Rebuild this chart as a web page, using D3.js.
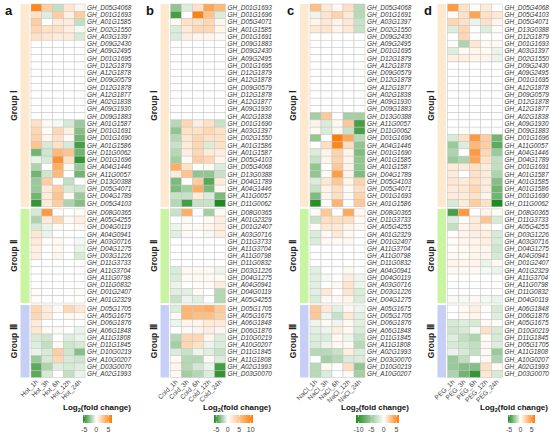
<!DOCTYPE html>
<html><head><meta charset="utf-8">
<script src="https://cdn.jsdelivr.net/npm/d3@7"></script>
<style>body{margin:0;background:#fff} svg{display:block}</style>
</head><body><svg id="chart" width="550" height="438"></svg>
<script>
// ---------------- DATA ----------------
const groupSizes = [28, 13, 10];
const groupNames = ["Group Ⅰ", "Group Ⅱ", "Group Ⅲ"];

const condsA = ["Hot_1h","Hot_3h","Hot_6h","Hot_12h","Hot_24h"];
const condsB = ["Cold_1h","Cold_3h","Cold_6h","Cold_12h","Cold_24h"];
const condsC = ["NaCl_1h","NaCl_3h","NaCl_6h","NaCl_12h","NaCl_24h"];
const condsD = ["PEG_1h","PEG_3h","PEG_6h","PEG_12h","PEG_24h"];

const ticksA = [-5, 0, 5];
const ticksB = [-5, 0, 5, 10];
const ticksC = [-10, -5, 0, 5];
const ticksD = [-5, 0, 5];

const domainA = [-5.5, 0, 6.5];
const domainB = [-6, 0, 11];
const domainC = [-11, 0, 6];
const domainD = [-5.5, 0, 6.5];

const genesA = ["GH_D05G4068","GH_D01G1693","GH_A01G1585","GH_D02G1550","GH_A03G1397","GH_D09G2430","GH_A09G2495","GH_D01G1695","GH_D12G1879","GH_A12G1878","GH_D09G0579","GH_D12G1878","GH_A12G1877","GH_A02G1838","GH_A09G1930","GH_D09G1883","GH_A01G1587","GH_D01G1691","GH_D01G1690","GH_A01G1586","GH_D11G0062","GH_D01G1696","GH_A04G1446","GH_A11G0057","GH_D13G0388","GH_D05G4071","GH_D04G1789","GH_D05G4103",
"GH_D08G0365","GH_A05G4255","GH_D04G0119","GH_A04G0941","GH_A03G0716","GH_D04G1275","GH_D03G1226","GH_D11G3733","GH_A11G3704","GH_A11G0798","GH_D11G0832","GH_D01G2407","GH_A01G2329",
"GH_D05G1705","GH_A05G1675","GH_D06G1876","GH_A06G1848","GH_A11G1808","GH_D11G1845","GH_D10G0219","GH_A10G0207","GH_D03G0070","GH_A02G1993"];
const valuesA = [
[6,2.5,-1.5,1.2,0.5],[1.5,-0.8,2.5,0.7,2.5],[2.5,0,1,1,-1.5],[2,1.5,1.5,0.8,-0.3],[1.5,1.2,1,1,-1],
[0,0,0,0,0],[0,0,0,0,0],[0,0,0,0,0],[0,0,0,0,0],[0,0,0,0,0],[0,0,0,0,0],[0,0,0,0,0],[0,0,0,0,0],[0,0,0,0,0],[0,0,0,0,0],[0,0,0,0,0],
[1.5,0.3,-0.3,-1,-2.5],[2,0.2,2,0.8,-3],[2.2,0.5,1.5,0.3,-3.5],[3,-1,1.5,-1,-4.5],[-3.5,-1.2,3.5,3,-3.5],[-0.5,-1,5.5,1.5,-5],[-2,0,4,0.3,-2.5],[-3.5,-1.2,3.5,0,-3.5],[-2.5,2.5,0,-1.5,0],[-2.5,1,2.5,-1,-1.2],[-3.5,1,3,0.3,-2.5],[-5,1,2.5,-2,-3],
[-1,5,0.2,0,0.2],[-2,1,2,0.3,0.8],[-1,-0.5,0.3,0,0.3],[1.2,-0.5,0,0,0],[1,0.2,0.3,0,-0.3],[0.8,0,0.3,0,-0.5],[0.8,0,0.5,0,-1],[0,0,0,0,0],[0,0,0,0,0],[0,0,0,0,0],[0,0,0,0,0],[0.2,0,0,0,0.2],[0.2,0,0,0,0],
[2,1,0.3,2,1.2],[2,1,0,0.3,0.3],[1,0,0,0,0],[1.2,0.3,0.3,0,-0.5],[-1,-1.2,0,-0.8,-0.5],[-0.8,-1.5,0.3,-1.2,-1],[-0.5,-1,2.5,-1.2,-3],[-2.5,-1,2,-1,-1.2],[-4,-2,-0.8,-1,-0.8],[-4,-1,0,-1.5,-0.5]
];

const genesB = ["GH_D01G1693","GH_D01G1696","GH_D05G4071","GH_A01G1585","GH_D01G1691","GH_D09G1883","GH_D09G2430","GH_A09G2495","GH_D01G1695","GH_D12G1879","GH_A12G1878","GH_D09G0579","GH_D12G1878","GH_A12G1877","GH_A09G1930","GH_A02G1838","GH_D01G1690","GH_A03G1397","GH_D02G1550","GH_A01G1586","GH_A01G1587","GH_D05G4103","GH_D05G4068","GH_D13G0388","GH_D04G1789","GH_A04G1446","GH_A11G0057","GH_D11G0062",
"GH_D08G0365","GH_A01G2329","GH_D01G2407","GH_A03G0716","GH_D11G3733","GH_A11G3704","GH_A11G0798","GH_D11G0832","GH_D03G1226","GH_D04G1275","GH_A04G0941","GH_D04G0119","GH_A05G4255",
"GH_D05G1705","GH_A05G1675","GH_A06G1848","GH_D06G1876","GH_D10G0219","GH_A10G0207","GH_D11G1845","GH_A11G1808","GH_A02G1993","GH_D03G0070"];
const valuesB = [
[-3,-1,2.5,7.5,6],[-5,0,10.5,5,-1],[0.5,2.5,2.5,3.4,0.8],[-1,1.7,3.4,3.4,0.8],[-1,1.4,0.8,0.8,0.5],
[0,0,0,0,0],[0,0,0,0,0],[0,0,0,0,0],[0,0,0,0,0],[0,0,0,0,0],[0,0,0,0,0],[0,0,0,0,0],[0,0,0,0,0],[0,0,0,0,0],[0,0,0,0,0],[0,0,0,0,0],
[-2,3.4,1.4,2.5,-1.5],[-3,2.5,2.5,3.4,2.5],[-2,2,3.4,2.5,2.5],[-1.5,1.7,3.4,-1,2.5],[-2,1.4,3.4,1.7,1.4],[-2.5,0.5,4.2,3.4,0.8],[6.8,2.5,0,0.5,-1],[1.7,5,-3,-3,-1.5],[-3.5,0,4.2,-4.5,1.7],[-3.5,-2.5,6.8,-3.5,0.5],[-1.5,-1.5,1.7,-1,-3.5],[-2,-5,-1.5,-1.5,-6],
[-1.5,6.8,0,-2.5,0.5],[0,0.5,0,0.5,1.4],[-0.5,0.5,0.5,0.8,1.4],[-0.8,0.5,0,-0.3,1.4],[0,0,0,0,0],[0,0,0,0,0],[0,0,0,0,0],[0,0,0,0,0],[-1,0.5,0.5,0.5,-0.5],[-1,0.5,0.5,0.5,0.5],[-0.5,0,0.3,0.3,1.4],[-0.8,-0.8,0.5,0,-2],[-1.5,-0.5,-0.8,0,-2],
[-1,6.2,6.2,6.8,4.5],[0.5,6.2,5.5,5.5,4],[-0.5,0.8,0.8,1.7,1.7],[0,0.5,0.8,1.4,0.8],[-2,3.4,3.4,0.8,-1],[-2.5,3.4,2.5,-0.5,-1],[-1,-1.5,-0.5,-0.8,-1.5],[0.5,-2,-2,0.5,-1],[0.8,-2,-1.2,-0.5,-5],[0.5,-2.5,-2,-1,-5.5]
];

const genesC = ["GH_D05G4068","GH_D01G1691","GH_A03G1397","GH_D02G1550","GH_D09G2430","GH_A09G2495","GH_D01G1695","GH_D12G1879","GH_A12G1878","GH_D09G0579","GH_D12G1878","GH_A12G1877","GH_A02G1838","GH_A09G1930","GH_D09G1883","GH_D13G0388","GH_A11G0057","GH_D11G0062","GH_D01G1696","GH_A04G1446","GH_D01G1690","GH_A01G1585","GH_A01G1587","GH_D04G1789","GH_D05G4103","GH_D05G4071","GH_D01G1693","GH_A01G1586",
"GH_D08G0365","GH_D11G3733","GH_A05G4255","GH_A01G2329","GH_D01G2407","GH_A11G3704","GH_A11G0798","GH_D11G0832","GH_A04G0941","GH_D04G0119","GH_A03G0716","GH_D03G1226","GH_D04G1275",
"GH_A05G1675","GH_D05G1705","GH_D06G1876","GH_A06G1848","GH_D11G1845","GH_A11G1808","GH_A02G1993","GH_D03G0070","GH_D10G0219","GH_A10G0207"];
const valuesC = [
[3,1,0.3,1.5,-3.6],[-0.9,1.2,2,1,-3.6],[0.5,1,0.5,1,-2.7],[1,1.2,0.5,1,-2.7],
[0,0,0,0,0],[0,0,0,0,0],[0,0,0,0,0],[0,0,0,0,0],[0,0,0,0,0],[0,0,0,0,0],[0,0,0,0,0],[0,0,0,0,0],[0,0,0,0,0],[0,0,0,0,0],[0,0,0,0,0],
[-4.5,2.5,0,-4.5,-4.5],[0.5,-1.8,0.3,2.5,-9],[0.3,-1.8,0.3,-2.7,-9],[-5.4,0,6,4,-3.6],[0,1.5,5.5,1.5,-5.4],[-1.8,0.5,2,0.5,-6.3],[-2.7,0.5,2,0.5,-5.4],[-5.4,0,2.5,0.5,-5.4],[-5.4,0.3,4.5,0.5,-6.3],[-1.8,1,2.5,0.5,2],[-2.7,0.5,1.5,0.3,1.5],[-6.3,0.5,1.5,0.3,2],[-10.5,0,3.5,0,2.5],
[0.2,2.5,0,4,0.3],[-2.7,1.5,1.5,1.5,0.3],[0.2,1,1,0.5,0.3],[-1.8,0.3,1,0.3,0],[-1.8,0.3,0.3,0.3,0],[0,0,0,0,0],[0,0,0,0,0],[0,0,0,0,0],[-1.4,0,0,0.3,0],[-1.4,-0.5,0,0.8,-0.9],[-1.4,0,0.3,1.2,-0.9],[-1.4,1,0,1.2,-1.8],[-1.8,0.3,0.3,0.5,-1.8],
[2.5,1,-1.4,0.3,-0.9],[2.5,-0.9,-2.7,1,-1.4],[-0.9,0.3,-0.9,0.3,-1.4],[-1.4,-0.9,0.8,0.3,-1.8],[-1.8,-1.8,0.3,-0.9,-2.7],[-1.8,-0.9,0.3,0.3,-3.6],[-3.6,-3.6,-2.7,0.8,-1.8],[0,-4.5,-3.6,-1.8,-1.8],[-3.6,0.3,0,1.5,-5.4],[-3.6,-1.8,0,0.3,-4.5]
];

const genesD = ["GH_D05G4068","GH_D05G4103","GH_D05G4071","GH_D13G0388","GH_D12G1879","GH_D01G1693","GH_A03G1397","GH_D02G1550","GH_D09G2430","GH_A09G2495","GH_D01G1695","GH_A12G1878","GH_D09G0579","GH_D12G1878","GH_A12G1877","GH_A02G1838","GH_A09G1930","GH_D09G1883","GH_D01G1696","GH_A11G0057","GH_A04G1446","GH_D04G1789","GH_D01G1691","GH_A01G1587","GH_A01G1585","GH_A01G1586","GH_D01G1690","GH_D11G0062",
"GH_D08G0365","GH_D11G3733","GH_A05G4255","GH_D03G1226","GH_A03G0716","GH_D04G1275","GH_A04G0941","GH_D01G2407","GH_A01G2329","GH_A11G3704","GH_A11G0798","GH_D11G0832","GH_D04G0119",
"GH_A06G1848","GH_D06G1876","GH_A05G1675","GH_D10G0219","GH_D11G1845","GH_D05G1705","GH_A11G1808","GH_A10G0207","GH_A02G1993","GH_D03G0070"];
const valuesD = [
[5,1.5,0.2,1,0],[0.2,1.5,4.5,1.5,1.2],[2,1.5,-0.5,1.5,0.5],[-0.8,2,0,-0.8,0.2],[0,2,0,0,0],[0.2,-2,1.2,0.3,0.3],[-0.8,0.3,0.5,0.3,-0.5],[0.8,0.8,0.5,0.5,-0.5],
[0,0,0,0,0],[0,0,0,0,0],[0,0,0,0,0],[0,0,0,0,0],[0,0,0,0,0],[0,0,0,0,0],[0,0,0,0,0],[0,0,0,0,0],[0,0,0,0,0],[0,0,0,0,0],
[-1,1.5,5,2.5,-3.5],[-2.5,-0.8,3.5,2.5,-4],[-2,0,5,2,-2.5],[-2.5,-2,4.5,1.5,-1.5],[1,1,1.5,1,-1.5],[1,0,1.5,1,-2],[1.2,1,1.5,1,-3],[1,1.2,2,1,-3.5],[1,1,1.5,0.5,-3.5],[-1,1,2.5,1.5,-6],
[-4.5,5,0,0.5,0.3],[-0.8,0.2,1,3,-1],[-1.5,0.5,1,0.5,0],[0.2,0.5,0.8,0.8,-1],[0.2,0.5,0.5,0.8,-1],[0.2,0.3,0.5,0.5,-1.2],[0.3,0.3,0.5,0.5,-1],[0.5,0.5,0.5,-0.5,0.3],[0.3,0.3,0.3,-0.3,-0.5],[0,0,0,0,0],[0,0,0,0,0],[0,0,0,0,0],[0.3,-0.3,0.3,-0.3,-0.5],
[0,0.3,0.8,0.2,-1],[0,0.3,0.5,0,-0.8],[-1,-0.8,-1,0.3,0.2],[-1.2,-1,-0.3,1.5,-1],[-0.8,-1.5,-2,0.3,-1],[-1,-1.2,-1.5,0.3,-0.8],[-0.5,-1,-1.5,0.3,-2.5],[-2.5,-1.5,0,0.3,-2],[-2.5,-3,-3,1.5,0.3],[-2,-3.5,-5,1.2,-1]
];

// ---------------- LAYOUT / STYLE ----------------
const panels = [
  {letter:"a", genes:genesA, values:valuesA, conds:condsA, domain:domainA, ticks:ticksA, letterX:5,   barX:20.5, barW:9, heatX0:31,    heatX1:85,    legX0:83,  legX1:112, titleX:63},
  {letter:"b", genes:genesB, values:valuesB, conds:condsB, domain:domainB, ticks:ticksB, letterX:146, barX:160.5, barW:8.5, heatX0:170.5, heatX1:225.5, legX0:214, legX1:253, titleX:203},
  {letter:"c", genes:genesC, values:valuesC, conds:condsC, domain:domainC, ticks:ticksC, letterX:287, barX:300, barW:8.5, heatX0:310,   heatX1:365,   legX0:356, legX1:399, titleX:341},
  {letter:"d", genes:genesD, values:valuesD, conds:condsD, domain:domainD, ticks:ticksD, letterX:424, barX:437.5, barW:8.5, heatX0:447.5, heatX1:502.5, legX0:508, legX1:535, titleX:480}
];
const groupColors = ["#fde8d0", "#c9f4a2", "#c8cff6"];
const GREEN = "#1f8a1f", ORANGE = "#ff7c05";
const topY = 4, bottomY = 377.5, gapUnits = 0.28;
const nRows = groupSizes.reduce((a,b)=>a+b,0);
const FONT = "Liberation Sans, Arial, sans-serif";

const svg = d3.select("#chart");
const y = d3.scaleLinear().domain([0, nRows + 2*gapUnits]).range([topY, bottomY]);
const rowH = y(1) - y(0);
const groupOf = i => (i < groupSizes[0] ? 0 : (i < groupSizes[0]+groupSizes[1] ? 1 : 2));
const rowPos = i => i + groupOf(i)*gapUnits;

panels.forEach(p => {
  const g = svg.append("g");
  const x = d3.scaleBand().domain(p.conds).range([p.heatX0, p.heatX1]);
  const color = d3.scaleLinear().domain(p.domain).range([GREEN, "#ffffff", ORANGE]).clamp(true);

  g.append("text").attr("x", p.letterX).attr("y", 15)
    .attr("font-family",FONT).attr("font-weight","bold")
    .attr("font-size", 13).attr("fill","#111").text(p.letter);

  let start = 0;
  groupSizes.forEach((n, gi) => {
    const y0 = y(rowPos(start)), y1 = y(rowPos(start+n-1)+1);
    g.append("rect").attr("x", p.barX).attr("y", y0).attr("width", p.barW).attr("height", y1-y0)
      .attr("fill", groupColors[gi]);
    const cy = (y0+y1)/2;
    g.append("text").attr("transform", `translate(${p.barX-4},${cy}) rotate(-90)`)
      .attr("text-anchor","middle").attr("font-family",FONT)
      .attr("font-weight","bold").attr("font-size", 8.5).attr("fill","#222").text(groupNames[gi]);
    start += n;
  });

  p.values.forEach((row, i) => {
    row.forEach((v, j) => {
      g.append("rect").attr("x", x(p.conds[j])).attr("y", y(rowPos(i)))
        .attr("width", x.bandwidth()).attr("height", rowH)
        .attr("fill", color(v)).attr("stroke","#c4c4c4").attr("stroke-width",0.5);
    });
    g.append("text").attr("x", p.heatX1 + 2).attr("y", y(rowPos(i)) + rowH/2 + 2.3)
      .attr("font-family",FONT).attr("font-style","italic")
      .attr("font-size", 6.45).attr("fill","#333").text(p.genes[i]);
  });

  p.conds.forEach(c => {
    const cx = x(c) + x.bandwidth()/2 + 2;
    g.append("text").attr("transform", `translate(${cx},${bottomY+5}) rotate(-45)`)
      .attr("text-anchor","end").attr("font-family",FONT)
      .attr("font-size", 6.6).attr("fill","#444").text(c);
  });

  const t = g.append("text").attr("x", p.titleX).attr("y", 410)
    .attr("font-family",FONT).attr("font-weight","bold")
    .attr("font-size", 8).attr("fill","#111");
  t.append("tspan").text("Log");
  t.append("tspan").attr("font-size",5.5).attr("dy",2).text("2");
  t.append("tspan").attr("dy",-2).text("(fold change)");

  const lx = d3.scaleLinear().domain([p.domain[0], p.domain[2]]).range([p.legX0, p.legX1]);
  const gradId = "grad" + p.letter;
  const grad = svg.append("defs").append("linearGradient").attr("id", gradId)
    .attr("x1","0%").attr("x2","100%").attr("y1","0%").attr("y2","0%");
  d3.range(0, 1.0001, 0.05).forEach(f => {
    const v = p.domain[0] + f*(p.domain[2]-p.domain[0]);
    grad.append("stop").attr("offset", (f*100)+"%").attr("stop-color", color(v));
  });
  g.append("rect").attr("x", p.legX0).attr("y", 415).attr("width", p.legX1-p.legX0).attr("height", 8)
    .attr("fill", `url(#${gradId})`);
  p.ticks.forEach(tk => {
    const tx = lx(tk);
    g.append("line").attr("x1",tx).attr("x2",tx).attr("y1",415).attr("y2",416.8).attr("stroke","#fff").attr("stroke-width",0.6);
    g.append("line").attr("x1",tx).attr("x2",tx).attr("y1",421.2).attr("y2",423).attr("stroke","#fff").attr("stroke-width",0.6);
    g.append("text").attr("x", tx).attr("y", 432).attr("text-anchor","middle")
      .attr("font-family",FONT).attr("font-size", 7).attr("fill","#444")
      .text(tk < 0 ? "-" + Math.abs(tk) : String(tk));
  });
});
</script></body></html>
